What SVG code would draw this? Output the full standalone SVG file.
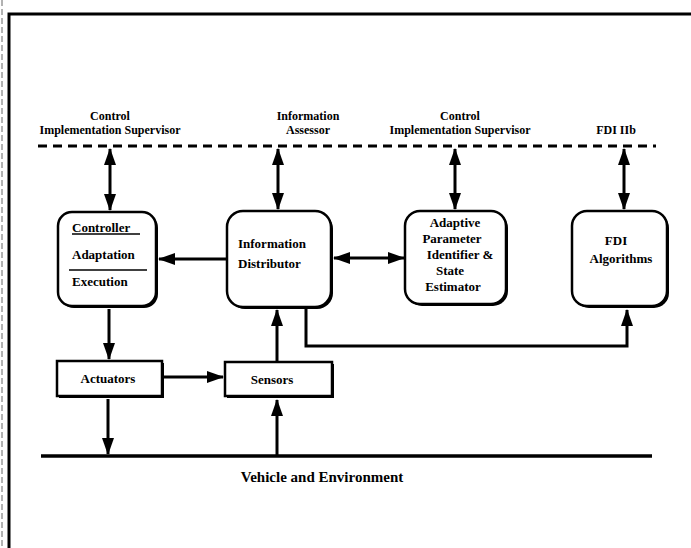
<svg xmlns="http://www.w3.org/2000/svg" width="691" height="548" viewBox="0 0 691 548">
  <style>
    .lbl { font-family: "Liberation Serif", "Times New Roman", serif; font-size: 12px; font-weight: bold; fill: #000; }
    .nd { font-size: 13px; }
    .mid { text-anchor: middle; }
    .box { fill: #fff; stroke: #000; stroke-width: 2.5; }
    .shadow { fill: #000; }
    .wire { fill: none; stroke: #000; stroke-width: 3; }
    .arrow { marker-end: url(#ah); }
    .both { marker-start: url(#ah); marker-end: url(#ah); }
  </style>
  <defs>
    <marker id="ah" viewBox="0 0 17 12" refX="16" refY="6" markerWidth="17" markerHeight="12" markerUnits="userSpaceOnUse" orient="auto-start-reverse">
      <path d="M0,0 L17,6 L0,12 z" fill="#000"/>
    </marker>
  </defs>
  <rect width="691" height="548" fill="#fff"/>

  <!-- page frame -->
  <g id="frame">
    <path d="M9,548 V14 H691" fill="none" stroke="#000" stroke-width="3"/>
    <path d="M2,0 V548" fill="none" stroke="#000" stroke-width="1" stroke-dasharray="6 3" opacity="0.6"/>
  </g>

  <!-- supervisory level -->
  <g id="supervisors">
    <path d="M38,146 H656" fill="none" stroke="#000" stroke-width="3" stroke-dasharray="9 6"/>
    <text class="lbl mid" x="110" y="120">Control</text>
    <text class="lbl mid" x="110" y="134">Implementation Supervisor</text>
    <text class="lbl mid" x="308" y="120">Information</text>
    <text class="lbl mid" x="308" y="134">Assessor</text>
    <text class="lbl mid" x="460" y="120">Control</text>
    <text class="lbl mid" x="460" y="134">Implementation Supervisor</text>
    <text class="lbl mid" x="616" y="134">FDI IIb</text>
  </g>

  <g id="controller">
    <rect class="shadow" x="60" y="214" width="98" height="94" rx="14"/>
    <rect class="box" x="58" y="212" width="98" height="94" rx="14"/>
    <text class="lbl nd" x="72" y="232">Controller</text>
    <path d="M72,234 H140" stroke="#000" stroke-width="1.5"/>
    <text class="lbl nd" x="72" y="259">Adaptation</text>
    <path d="M69,270 H147" stroke="#000" stroke-width="1.5"/>
    <text class="lbl nd" x="72" y="286">Execution</text>
  </g>

  <g id="distributor">
    <rect class="shadow" x="229" y="213" width="104" height="96" rx="16"/>
    <rect class="box" x="227" y="211" width="104" height="96" rx="16"/>
    <text class="lbl nd" x="238" y="248">Information</text>
    <text class="lbl nd" x="238" y="268">Distributor</text>
  </g>

  <g id="identifier">
    <rect class="shadow" x="407" y="213" width="101" height="93" rx="15"/>
    <rect class="box" x="405" y="211" width="101" height="93" rx="15"/>
    <text class="lbl nd mid" x="455" y="227">Adaptive</text>
    <text class="lbl nd mid" x="452" y="243">Parameter</text>
    <text class="lbl nd mid" x="460" y="259">Identifier &amp;</text>
    <text class="lbl nd mid" x="450" y="275">State</text>
    <text class="lbl nd mid" x="453" y="291">Estimator</text>
  </g>

  <g id="fdi">
    <rect class="shadow" x="574" y="213" width="95" height="95" rx="15"/>
    <rect class="box" x="572" y="211" width="95" height="95" rx="15"/>
    <text class="lbl nd mid" x="616" y="245">FDI</text>
    <text class="lbl nd mid" x="621" y="263">Algorithms</text>
  </g>

  <g id="actuators">
    <rect class="shadow" x="59" y="363" width="105" height="35"/>
    <rect class="box" x="57" y="361" width="105" height="35"/>
    <text class="lbl nd mid" x="108" y="383">Actuators</text>
  </g>

  <g id="sensors">
    <rect class="shadow" x="227" y="364" width="107" height="34"/>
    <rect class="box" x="225" y="362" width="107" height="34"/>
    <text class="lbl nd mid" x="272" y="384">Sensors</text>
  </g>

  <g id="environment">
    <path d="M41,456 H652" fill="none" stroke="#000" stroke-width="3.5"/>
    <text class="lbl mid" x="322" y="482" style="font-size:15px">Vehicle and Environment</text>
  </g>

  <!-- connectors -->
  <g id="connectors">
    <path class="wire both" d="M110,149 V210"/>
    <path class="wire both" d="M278,149 V209"/>
    <path class="wire both" d="M455,149 V209"/>
    <path class="wire both" d="M624,149 V209"/>
    <path class="wire arrow" d="M227,259 H159"/>
    <path class="wire both" d="M334,258 H404"/>
    <path class="wire arrow" d="M109,309 V359"/>
    <path class="wire arrow" d="M164,377 H223"/>
    <path class="wire arrow" d="M277,361 V310"/>
    <path class="wire arrow" d="M306,309 V346 H627 V310"/>
    <path class="wire arrow" d="M108,399 V454"/>
    <path class="wire arrow" d="M277,455 V400"/>
  </g>
</svg>
